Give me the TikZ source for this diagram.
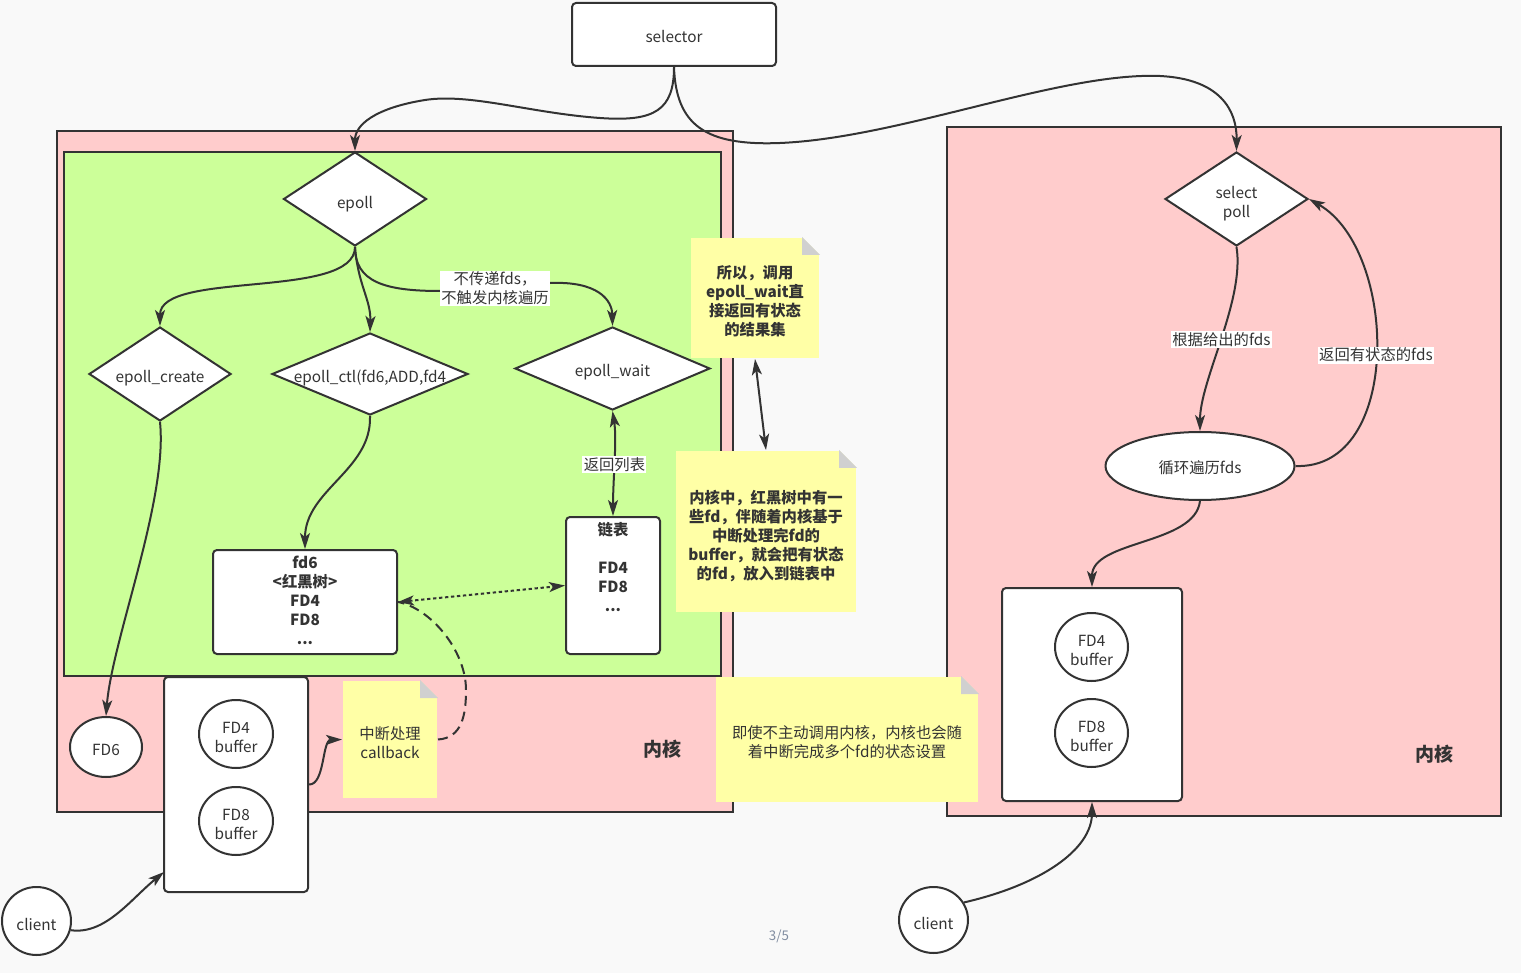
\documentclass[tikz,border=0pt]{standalone}
\usepackage{fontspec}
\setmainfont{Noto Sans CJK SC}
\usetikzlibrary{shapes.geometric,arrows.meta}

\definecolor{pagebg}{RGB}{249,249,249}
\definecolor{kernpink}{RGB}{255,204,204}
\definecolor{epollgreen}{RGB}{204,255,153}
\definecolor{noteyellow}{RGB}{255,255,166}
\definecolor{foldgray}{RGB}{208,208,208}
\definecolor{ink}{RGB}{51,51,51}
\definecolor{pagenum}{RGB}{128,140,160}

\tikzset{every picture/.style={line width=1.5pt}}
\tikzset{
	>={Stealth[length=12pt,width=7.5pt,inset=3pt]},
	txt/.style={font=\fontsize{11.5}{14.25}\selectfont, text=ink, align=center},
	boldtxt/.style={txt, font=\fontsize{11.5}{14.25}\selectfont\bfseries},
	intxt/.style={txt, shift={(0,-3)}},
	inboldtxt/.style={boldtxt, shift={(0,-3.5)}},
	kerntitle/.style={txt, font=\fontsize{14.25}{16}\selectfont\bfseries},
	kernbox/.style={draw=ink, fill=kernpink},
	greenbox/.style={draw=ink, fill=epollgreen},
	whitebox/.style={draw=ink, fill=white, rounded corners=3pt, inner sep=0pt},
	decision/.style={diamond, draw=ink, fill=white, inner sep=0pt},
	oval/.style={ellipse, draw=ink, fill=white, inner sep=0pt},
	notebox/.style={rectangle, fill=noteyellow, inner sep=0pt},
	link/.style={draw=ink, ->},
	edgelabel/.style={txt, fill=white, inner sep=1pt},
}

\begin{document}
\begin{tikzpicture}[x=0.75pt,y=0.75pt,yscale=-1,xscale=1]
		\fill[pagebg] (0,0) rectangle (1521,973);
		\useasboundingbox (0,0) rectangle (1521,973);
		
		% kernel areas
		\draw[kernbox] (57,131) rectangle (733,812);
		\draw[greenbox] (64,152) rectangle (721,676);
		\draw[kernbox] (947,127) rectangle (1501,816);
		
		\node[whitebox, minimum width=153pt, minimum height=47.25pt, label={[intxt, shift={(0,1)}]center:selector}] (selector) at (674,34.5) {};
		
		% epoll side
		\node[decision, minimum width=107.25pt, minimum height=70.5pt, label={[intxt, shift={(0,-2)}]center:epoll}] (epoll) at (355,199) {};
		\node[decision, minimum width=106.5pt, minimum height=70.5pt, label={[intxt, shift={(0,-1)}]center:{epoll\_create}}] (ecreate) at (160,374) {};
		\node[decision, minimum width=147pt, minimum height=61.5pt, label={[intxt, shift={(0,-1)}]center:{epoll\_ctl(fd6,ADD,fd4}}] (ectl) at (370,374) {};
		\node[decision, minimum width=146.25pt, minimum height=62.25pt, label={[intxt, shift={(0,-1)}]center:{epoll\_wait}}] (ewait) at (612.5,368.5) {};
		\node[whitebox, minimum width=138pt, minimum height=78pt, label={[boldtxt, shift={(0,2)}]center:{fd6\\<红黑树>\\FD4\\FD8\\...}}] (fd6box) at (305,602) {};
		\node[whitebox, minimum width=70.5pt, minimum height=102.75pt, label={[inboldtxt, anchor=north, inner sep=1.5pt]north:{链表\\[14.25pt]FD4\\FD8\\...}}] (lianbiao) at (613,585.5) {};
		\node[oval, minimum width=54pt, minimum height=45pt, label={[intxt]center:FD6}] (fd6oval) at (106,747) {};
		\node[whitebox, minimum width=108pt, minimum height=161.25pt] (leftbuf) at (236,784.5) {};
		\node[oval, minimum width=55.5pt, minimum height=51pt, label={[intxt]center:{FD4\\buffer}}] (fd4bufL) at (236,734) {};
		\node[oval, minimum width=55.5pt, minimum height=51pt, label={[intxt]center:{FD8\\buffer}}] (fd8bufL) at (236,821) {};
		\node[oval, minimum width=51.75pt, minimum height=51pt, label={[intxt]center:client}] (clientL) at (36.5,921) {};
		\coordinate (lbufin) at (164,872);
		\node[kerntitle] (kernL) at (662,749) {内核};
		
		% select / poll side
		\node[decision, minimum width=107.25pt, minimum height=70.5pt, label={[intxt, shift={(0,-2)}]center:{select\\poll}}] (selpoll) at (1236.5,199) {};
		\node[oval, minimum width=141.75pt, minimum height=51pt, label={[intxt, shift={(0,1)}]center:循环遍历fds}] (loop) at (1200,466) {};
		\node[whitebox, minimum width=135pt, minimum height=159.75pt] (rightbuf) at (1092,694.5) {};
		\node[oval, minimum width=54.75pt, minimum height=51pt, label={[intxt]center:{FD4\\buffer}}] (fd4bufR) at (1091.5,647) {};
		\node[oval, minimum width=54.75pt, minimum height=51pt, label={[intxt]center:{FD8\\buffer}}] (fd8bufR) at (1091.5,733) {};
		\node[oval, minimum width=51.75pt, minimum height=49.5pt, label={[intxt]center:client}] (clientR) at (933.5,920) {};
		\node[kerntitle] (kernR) at (1434,754) {内核};
		
		% notes
		\node[notebox, minimum width=96pt, minimum height=90pt, label={[inboldtxt]center:{所以，调用\\epoll\_wait直\\接返回有状态\\的结果集}}] (sumnote) at (755,298) {};
		\node[notebox, minimum width=135pt, minimum height=120.75pt, label={[inboldtxt, shift={(0,-1)}]center:{内核中，红黑树中有一\\些fd，伴随着内核基于\\中断处理完fd的\\buffer，就会把有状态\\的fd，放入到链表中}}] (kernnote) at (766,531.5) {};
		\node[notebox, minimum width=70.5pt, minimum height=87.75pt, label={[intxt]center:{中断处理\\callback}}] (cbnote) at (390,739.5) {};
		\node[notebox, minimum width=196.5pt, minimum height=93.75pt, label={[intxt]center:{即使不主动调用内核，内核也会随\\着中断完成多个fd的状态设置}}] (intrnote) at (847,739.5) {};
		\foreach \n/\c in {sumnote/pagebg, kernnote/pagebg, cbnote/kernpink, intrnote/kernpink} {
			\fill[\c] (\n.north east) -- ++(-18,0) -- ++(18,18) -- cycle;
			\fill[foldgray] (\n.north east) ++(-18,0) -- ++(0,18) -- ++(18,0) -- cycle;
		}
		
		\node[font=\fontsize{10}{12}\selectfont, text=pagenum] (pageno) at (779,936) {3/5};
		
		% connectors
		\draw[link] (selector.south) .. controls (674,110) and (655,122) .. (600,118) .. controls (530,113) and (470,93) .. (425,100) .. controls (375,108) and (355,125) .. (epoll.north);
		\draw[link] (selector.south) .. controls (676,125) and (705,146) .. (780,143) .. controls (900,138) and (1060,72) .. (1160,76) .. controls (1220,79) and (1237,110) .. (selpoll.north);
		
		\draw[link] (epoll.south) .. controls (355,300) and (160,270) .. (ecreate.north);
		\draw[link] (epoll.south) .. controls (358,285) and (371,300) .. (ectl.north);
		\draw[link] (epoll.south) .. controls (355,282) and (385,291) .. (440,291) -- node[edgelabel, shift={(0,-1.5)}] (nofdslabel) {不传递fds，\\不触发内核遍历} (550,283) .. controls (598,281) and (612,300) .. (ewait.north);
		\draw[link, <->] (ewait.south) .. controls (617,440) and (613,480) .. node[edgelabel, shift={(0,-4)}] (backlabel) {返回列表} (lianbiao.north);
		\draw[link] (ectl.south) .. controls (372,470) and (305,490) .. (fd6box.north);
		\draw[link, <->, dash pattern=on 2.5pt off 2pt] (fd6box.east) -- (lianbiao.west);
		\draw[draw=ink, dash pattern=on 7.5pt off 4.5pt] (cbnote.east) .. controls (462,738) and (466,715) .. (466,690) .. controls (466,650) and (430,608) .. (fd6box.east);
		\draw[link] (leftbuf.east) .. controls (325,785) and (322,740) .. (cbnote.west);
		\draw[link] (ecreate.south) .. controls (168,500) and (112,640) .. (fd6oval.north);
		\draw[link] (clientL.-15) .. controls (105,935) and (130,900) .. (lbufin);
		\draw[link, <->] (sumnote.south) -- (kernnote.north);
		
		\draw[link] (selpoll.south) .. controls (1245,300) and (1200,380) .. node[edgelabel] (givenlabel) {根据给出的fds} (loop.north);
		\draw[link] (loop.east) .. controls (1403,470) and (1398,250) .. node[edgelabel, shift={(0,-2)}] (retlabel) {返回有状态的fds} (selpoll.east);
		\draw[link] (loop.south) .. controls (1195,545) and (1092,540) .. (rightbuf.north);
		\draw[link] (clientR.30) .. controls (1040,885) and (1092,850) .. (rightbuf.south);
		
	\end{tikzpicture}
\end{document}
